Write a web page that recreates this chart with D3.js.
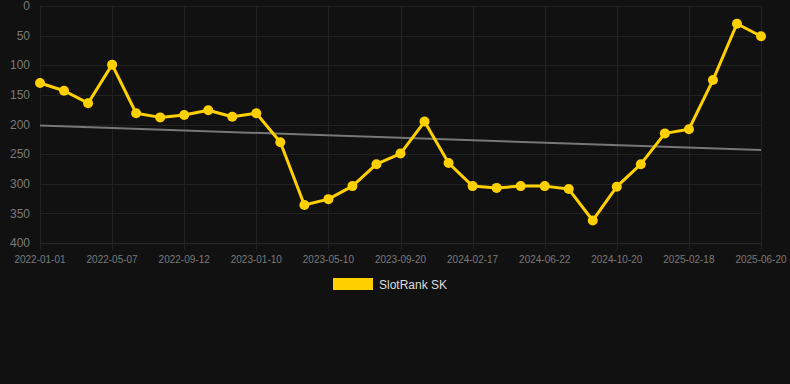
<html>
<head>
<title>SlotRank SK</title>
<meta charset="utf-8">
<style type="text/css">
body { margin: 0; background: #111111; }
svg { display: block; font-family: "Liberation Sans", Arial, sans-serif; }
</style>
</head>
<body>
<script src="https://d3js.org/d3.v7.min.js"></script>
<script>

// tick labels shown on the x axis (one every third point)
var tickLabels = ["2022-01-01", "2022-05-07", "2022-09-12", "2023-01-10", "2023-05-10",
  "2023-09-20", "2024-02-17", "2024-06-22", "2024-10-20", "2025-02-18", "2025-06-20"];

// rank values, one per point
var rankValues = [130, 143, 164, 99, 181, 188, 184, 176, 187, 181, 230,
  336, 326, 304, 267, 249, 195, 265, 304, 307, 304,
  304, 309, 362, 305, 267, 215, 208, 125, 30, 51];

var yTicks = [0, 50, 100, 150, 200, 250, 300, 350, 400];

var seriesName = "SlotRank SK";

var margin = {top: 6, right: 29, bottom: 141, left: 40},
    width = 790 - margin.left - margin.right,
    height = 384 - margin.top - margin.bottom;

var x = d3.scaleLinear()
    .domain([0, rankValues.length - 1])
    .range([0, width]);
var y = d3.scaleLinear()
    .domain([0, 400])
    .range([0, height]);

var svg = d3.select("body").append("svg")
    .attr("width", 790)
    .attr("height", 384)
    .style("background", "#111111");

var g = svg.append("g")
    .attr("transform", "translate(" + margin.left + "," + margin.top + ")");

// grid lines
g.selectAll(".hgrid")
    .data(yTicks)
    .enter().append("line")
    .attr("x1", 0)
    .attr("x2", width)
    .attr("y1", function(d) { return Math.round(y(d)) + 0.5; })
    .attr("y2", function(d) { return Math.round(y(d)) + 0.5; })
    .attr("stroke", function(d) { return d == 400 ? "#292929" : "#222222"; })
    .attr("stroke-width", 1);

var tickIdx = tickLabels.map(function(d, i) { return i * 3; });

g.selectAll(".vgrid")
    .data(tickIdx)
    .enter().append("line")
    .attr("x1", function(d) { return Math.round(x(d)) + 0.5; })
    .attr("x2", function(d) { return Math.round(x(d)) + 0.5; })
    .attr("y1", 0)
    .attr("y2", height + 7)
    .attr("stroke", "#222222")
    .attr("stroke-width", 1);

// y axis labels
g.selectAll(".ylab")
    .data(yTicks)
    .enter().append("text")
    .attr("x", -10)
    .attr("y", function(d) { return y(d); })
    .attr("dy", "0.35em")
    .attr("text-anchor", "end")
    .attr("fill", "#7a7a7a")
    .style("font-size", "12px")
    .text(function(d) { return d; });

// x axis labels
g.selectAll(".xlab")
    .data(tickIdx)
    .enter().append("text")
    .attr("x", function(d) { return x(d); })
    .attr("y", height + 20)
    .attr("text-anchor", "middle")
    .attr("fill", "#7a7a7a")
    .style("font-size", "10px")
    .text(function(d, i) { return tickLabels[i]; });

// linear trend (least squares over the points)
var n = rankValues.length;
var meanX = d3.mean(rankValues, function(d, i) { return i; });
var meanY = d3.mean(rankValues);
var sxy = d3.sum(rankValues, function(d, i) { return (i - meanX) * (d - meanY); });
var sxx = d3.sum(rankValues, function(d, i) { return (i - meanX) * (i - meanX); });
var slope = sxy / sxx;
var icpt = meanY - slope * meanX;

g.append("line")
    .attr("x1", x(0))
    .attr("y1", y(icpt))
    .attr("x2", x(n - 1))
    .attr("y2", y(icpt + slope * (n - 1)))
    .attr("stroke", "#777777")
    .attr("stroke-width", 2);

// the series line
var line = d3.line()
    .x(function(d, i) { return x(i); })
    .y(function(d) { return y(d); });

g.append("path")
    .datum(rankValues)
    .attr("d", line)
    .attr("fill", "none")
    .attr("stroke", "#FFD000")
    .attr("stroke-width", 3)
    .attr("stroke-linejoin", "round");

g.selectAll(".point")
    .data(rankValues)
    .enter().append("circle")
    .attr("cx", function(d, i) { return x(i); })
    .attr("cy", function(d) { return y(d); })
    .attr("r", 5)
    .attr("fill", "#FFD000");

// legend
svg.append("rect")
    .attr("x", 333)
    .attr("y", 278)
    .attr("width", 40)
    .attr("height", 12)
    .attr("fill", "#FFD000");

svg.append("text")
    .attr("x", 379)
    .attr("y", 289)
    .attr("fill", "#dddddd")
    .style("font-size", "12px")
    .text(seriesName);

</script>
</body>
</html>
